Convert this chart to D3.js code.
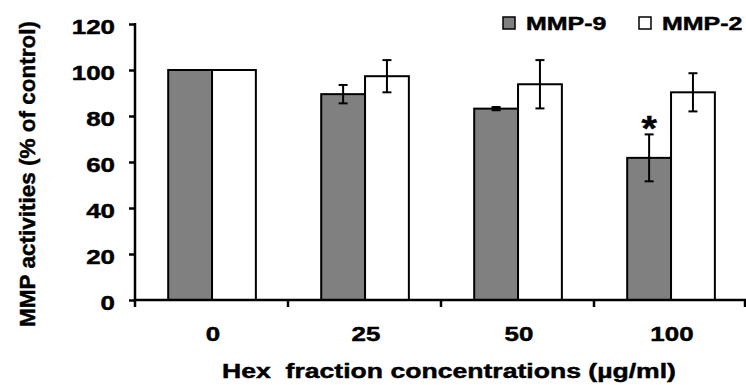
<!DOCTYPE html>
<html>
<head>
<meta charset="utf-8">
<script src="https://cdn.jsdelivr.net/npm/d3@7"></script>
<style>
  html, body { margin: 0; padding: 0; background: #fff; }
  svg { display: block; }
  text { font-family: "Liberation Sans", Arial, sans-serif; font-weight: bold; fill: #000; stroke: #000; stroke-width: 0.45px; }
</style>
</head>
<body>
<svg id="chart" width="746" height="385"></svg>
<script>
// ---- data ----
const categories = ["0", "25", "50", "100"];
const series = ["MMP-9", "MMP-2"];
const mmp9 = [100, 89.5, 83.2, 61.8];
const mmp9Err = [0, 4.0, 0.7, 10.2];
const mmp2 = [100, 97.3, 93.8, 90.3];
const mmp2Err = [0, 7.0, 10.5, 8.3];
const yTicks = [0, 20, 40, 60, 80, 100, 120];
const significance = ["", "", "", "*"];
const seriesColors = ["#808080", "#ffffff"];

// ---- layout ----
const SX = 1.33; // horizontal stretch of text in the reference
const svg = d3.select("#chart");
const plotLeft = 135, plotRight = 747, plotTop = 24, plotBottom = 300;

const x0 = d3.scaleBand().domain(categories).range([plotLeft, plotRight]).padding(0);
const bw = x0.bandwidth();
const x1 = d3.scaleBand().domain(series).range([bw * 0.217, bw * 0.79]).padding(0);
const y = d3.scaleLinear().domain([0, 120]).range([plotBottom, plotTop]);

const rows = categories.map((c, i) => ({
  cat: c,
  vals: [
    { s: series[0], v: mmp9[i], e: mmp9Err[i], color: seriesColors[0] },
    { s: series[1], v: mmp2[i], e: mmp2Err[i], color: seriesColors[1] }
  ],
  sig: significance[i]
}));

// bars
const g = svg.append("g");
const grp = g.selectAll("g.cat").data(rows).join("g")
  .attr("class", "cat")
  .attr("transform", d => `translate(${x0(d.cat)},0)`);

grp.selectAll("rect").data(d => d.vals).join("rect")
  .attr("x", d => x1(d.s))
  .attr("y", d => y(d.v))
  .attr("width", x1.bandwidth())
  .attr("height", d => y(0) - y(d.v))
  .attr("fill", d => d.color)
  .attr("stroke", "#000")
  .attr("stroke-width", 2);

// error bars
const capW = 4.5;
const eb = grp.selectAll("g.err").data(d => d.vals.filter(v => v.e > 0)).join("g")
  .attr("class", "err")
  .attr("stroke", "#000")
  .attr("stroke-width", 2);
eb.append("line")
  .attr("x1", d => x1(d.s) + x1.bandwidth() / 2)
  .attr("x2", d => x1(d.s) + x1.bandwidth() / 2)
  .attr("y1", d => y(d.v + d.e))
  .attr("y2", d => y(d.v - d.e));
eb.append("line")
  .attr("x1", d => x1(d.s) + x1.bandwidth() / 2 - capW)
  .attr("x2", d => x1(d.s) + x1.bandwidth() / 2 + capW)
  .attr("y1", d => y(d.v + d.e))
  .attr("y2", d => y(d.v + d.e));
eb.append("line")
  .attr("x1", d => x1(d.s) + x1.bandwidth() / 2 - capW)
  .attr("x2", d => x1(d.s) + x1.bandwidth() / 2 + capW)
  .attr("y1", d => y(d.v - d.e))
  .attr("y2", d => y(d.v - d.e));

// significance asterisk
grp.filter(d => d.sig).append("text")
  .attr("transform", d => {
    const v = d.vals[0];
    return `translate(${x1(v.s) + x1.bandwidth() / 2},${y(v.v + v.e) + 6}) scale(1.1,1)`;
  })
  .attr("text-anchor", "middle")
  .style("font-size", "36px")
  .text(d => d.sig);

// y axis
const yAxis = svg.append("g")
  .attr("transform", `translate(${plotLeft},0)`)
  .call(d3.axisLeft(y).tickValues(yTicks).tickSize(6).tickSizeOuter(0));
yAxis.select(".domain").remove();
yAxis.selectAll(".tick line").attr("stroke", "#000").attr("stroke-width", 2.5);
yAxis.selectAll(".tick text")
  .attr("x", null).attr("dy", null)
  .attr("fill", "#000")
  .attr("transform", `translate(-20,9.5) scale(${SX},1)`)
  .style("font-size", "19.5px")
  .style("font-family", "'Liberation Sans', Arial, sans-serif");
yAxis.append("line")
  .attr("x1", 0).attr("x2", 0)
  .attr("y1", y(120) - 1).attr("y2", plotBottom + 7)
  .attr("stroke", "#000").attr("stroke-width", 2.5);

// x axis
const xAxis = svg.append("g")
  .attr("transform", `translate(0,${plotBottom})`)
  .call(d3.axisBottom(x0).tickSize(0).tickSizeOuter(0));
xAxis.select(".domain").remove();
xAxis.selectAll(".tick text")
  .attr("y", null).attr("dy", null)
  .attr("fill", "#000")
  .attr("transform", `translate(1.5,41) scale(${SX},1)`)
  .style("font-size", "19.5px")
  .style("font-family", "'Liberation Sans', Arial, sans-serif");
xAxis.append("line")
  .attr("x1", plotLeft).attr("x2", plotRight)
  .attr("y1", 0).attr("y2", 0)
  .attr("stroke", "#000").attr("stroke-width", 2.5);
const boundaries = categories.map(c => x0(c)).concat([x0(categories[categories.length - 1]) + bw]);
xAxis.selectAll("line.bt").data(boundaries.slice(1)).join("line")
  .attr("class", "bt")
  .attr("x1", d => Math.min(d, 745)).attr("x2", d => Math.min(d, 745))
  .attr("y1", 0).attr("y2", 7)
  .attr("stroke", "#000").attr("stroke-width", 2.5);

// axis titles
svg.append("text")
  .attr("transform", `translate(449,378) scale(${SX},1)`)
  .attr("text-anchor", "middle")
  .style("font-size", "20px")
  .text("Hex\u00a0 fraction concentrations (\u00b5g/ml)");

svg.append("text")
  .attr("transform", "translate(35,174) rotate(-90)")
  .attr("text-anchor", "middle")
  .style("font-size", "22.5px")
  .text("MMP activities (% of control)");

// legend
const legendX = [503, 639];
const legend = svg.append("g");
series.forEach((s, i) => {
  legend.append("rect")
    .attr("x", legendX[i]).attr("y", 17)
    .attr("width", 12).attr("height", 12)
    .attr("fill", seriesColors[i])
    .attr("stroke", "#000").attr("stroke-width", 1.5);
  legend.append("text")
    .attr("transform", `translate(${legendX[i] + 23},30) scale(${SX + 0.02},1)`)
    .style("font-size", "18.5px")
    .text(s);
});
</script>
</body>
</html>
